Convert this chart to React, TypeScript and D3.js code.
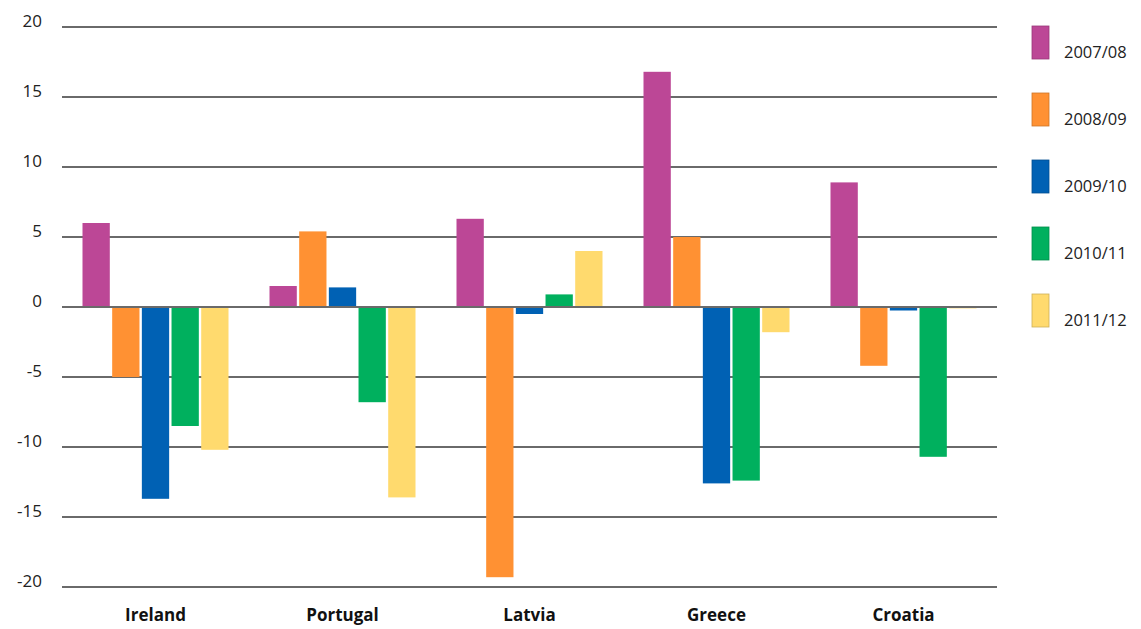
import React from "react";
import * as d3 from "d3";

const countries = ["Ireland", "Portugal", "Latvia", "Greece", "Croatia"];
const years = ["2007/08", "2008/09", "2009/10", "2010/11", "2011/12"];
const colors = ["#bc4796", "#ff9133", "#0061b4", "#00b05e", "#ffda6e"];

// values per year, in country order
const v0708 = [6.0, 1.5, 6.3, 16.8, 8.9];
const v0809 = [-5.0, 5.4, -19.3, 5.0, -4.2];
const v0910 = [-13.7, 1.4, -0.5, -12.6, -0.25];
const v1011 = [-8.5, -6.8, 0.9, -12.4, -10.7];
const v1112 = [-10.2, -13.6, 4.0, -1.8, -0.1];
const series = [v0708, v0809, v0910, v1011, v1112];

const yTicks = [20, 15, 10, 5, 0, -5, -10, -15, -20];

export default function App() {
	const width = 1141;
	const height = 629;
	const marginLeft = 62;
	const plotRight = 997;
	const marginTop = 27;
	const plotBottom = 587;

	const x = d3
		.scaleBand<string>()
		.domain(countries)
		.range([marginLeft, plotRight])
		.padding(0);

	const inner = d3
		.scaleBand<string>()
		.domain(years)
		.range([20.5, x.bandwidth() - 20.5])
		.paddingInner(0.08);

	const y = d3.scaleLinear().domain([-20, 20]).range([plotBottom, marginTop]);

	const font = "'Open Sans', 'DejaVu Sans', sans-serif";

	return (
		<svg
			width={width}
			height={height}
			style={{ position: "absolute", left: 0, top: 0, background: "#fff" }}
			fontFamily={font}
		>
			{/* gridlines + y labels */}
			{yTicks.map((t) => (
				<g key={t}>
					<line
						x1={marginLeft}
						x2={plotRight}
						y1={y(t)}
						y2={y(t)}
						stroke="#6a6a6a"
						strokeWidth={1.8}
					/>
					<text
						x={42}
						y={y(t)}
						textAnchor="end"
						fontSize={17}
						fill="#222"
					>
						{t}
					</text>
				</g>
			))}

			{/* bars */}
			{countries.map((c, ci) => (
				<g key={c} transform={`translate(${x(c)}, 0)`}>
					{series.map((s, si) => {
						const v = s[ci];
						return (
							<rect
								key={si}
								x={inner(years[si])}
								width={inner.bandwidth()}
								y={y(Math.max(0, v))}
								height={Math.abs(y(v) - y(0))}
								fill={colors[si]}
							/>
						);
					})}
				</g>
			))}

			{/* zero line on top */}
			<line
				x1={marginLeft}
				x2={plotRight}
				y1={y(0)}
				y2={y(0)}
				stroke="#6a6a6a"
				strokeWidth={1.8}
			/>

			{/* category labels */}
			{countries.map((c) => (
				<text
					key={c}
					x={(x(c) || 0) + x.bandwidth() / 2}
					y={621}
					textAnchor="middle"
					fontSize={17}
					fontWeight="bold"
					fill="#111"
				>
					{c}
				</text>
			))}

			{/* legend */}
			{years.map((yr, i) => (
				<g key={yr} transform={`translate(1032, ${26 + i * 67})`}>
					<rect
						width={17}
						height={33}
						fill={colors[i]}
						stroke={d3.color(colors[i])?.darker(0.6).toString()}
						strokeWidth={0.8}
					/>
					<text x={32} y={32} fontSize={16.5} fill="#222">
						{yr}
					</text>
				</g>
			))}
		</svg>
	);
}
